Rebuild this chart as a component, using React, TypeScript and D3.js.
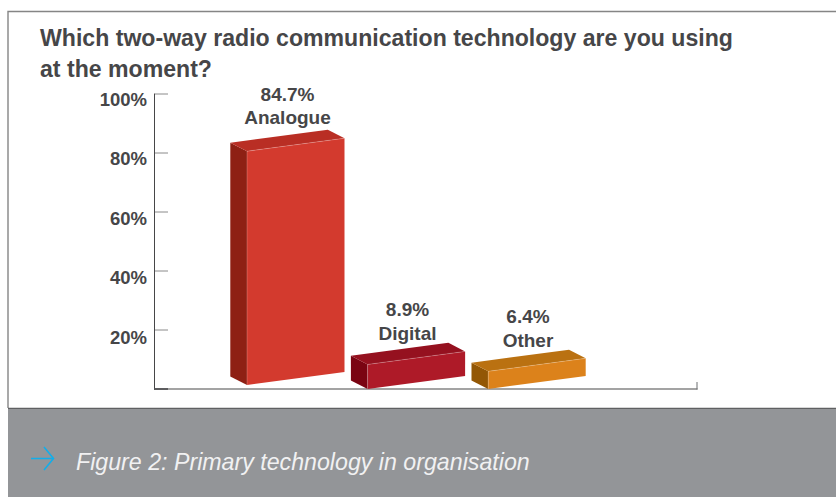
import React from "react";
import * as d3 from "d3";

const categories = ["Analogue", "Digital", "Other"];
const shares = [84.7, 8.9, 6.4];
const valueLabels = ["84.7%", "8.9%", "6.4%"];
const axisTicks = [20, 40, 60, 80, 100];

const frontColors = ["#d33a2e", "#ae1a28", "#dc821b"];
const topColors = ["#b92e24", "#95111f", "#ba7111"];
const sideColors = ["#8e2014", "#7a0412", "#935705"];

// Layout of the pseudo-3D blocks
const frontBottoms = [385, 389, 389];
const labelCentres = [287.5, 407.5, 528];
const labelBaselines = [[100.5, 124], [316, 340], [323, 347]];
const font = "'Liberation Sans', Arial, sans-serif";
const ink = "#464648";
const W = 836;
const H = 497;

const yAxis = d3.scaleLinear().domain([0, 100]).range([389, 94]);
// Tick labels run on a slightly wider pitch than the tick marks
const yLabel = d3.scaleLinear().domain([20, 100]).range([343.5, 106]);
const barHeight = d3.scaleLinear().domain([0, 100]).range([0, 276]);
const xBand = d3.scaleBand<string>().domain(categories).range([247, 585.7]).paddingInner(0.1915).paddingOuter(0).align(0);

const SKEW = 13;
const DX = 16.7;
const DY = 8.6;

const pts = (p: [number, number][]) => d3.line()(p) + "Z";

export default function App() {
  const bw = xBand.bandwidth();
  return (
    <svg width={W} height={H} style={{ position: "absolute", left: 0, top: 0, display: "block" }} fontFamily={font}>
      <rect x={0} y={0} width={W} height={H} fill="#fff" />
      {/* Framed panel and caption strip */}
      <path d={`M${W},11.5H8V408`} fill="none" stroke="#858585" strokeWidth={1.4} />
      <rect x={8} y={408} width={W - 8} height={89} fill="#939598" />
      <line x1={8} x2={W} y1={408.3} y2={408.3} stroke="#5f6062" strokeWidth={1.2} />

      <text x={40} y={46} fontSize={23.1} fontWeight="bold" fill={ink}>Which two-way radio communication technology are you using</text>
      <text x={40} y={77} fontSize={23.1} fontWeight="bold" fill={ink}>at the moment?</text>

      {/* Axis */}
      {axisTicks.map((t) => (
        <g key={t}>
          <line x1={155} x2={168} y1={yAxis(t)} y2={yAxis(t)} stroke="#8a8a8a" strokeWidth={1} />
          <text x={147} y={yLabel(t)} textAnchor="end" fontSize={18.5} fontWeight="bold" fill={ink}>{t}%</text>
        </g>
      ))}
      <line x1={154.5} x2={154.5} y1={yAxis(100) - 0.5} y2={yAxis(0) + 0.5} stroke={ink} strokeWidth={1} />
      <line x1={154} x2={697.5} y1={yAxis(0)} y2={yAxis(0)} stroke="#858585" strokeWidth={1.5} />
      <line x1={154} x2={168} y1={yAxis(0)} y2={yAxis(0)} stroke={ink} strokeWidth={1.5} />
      <line x1={697} x2={697} y1={382} y2={389.5} stroke="#6d6e71" strokeWidth={1} />

      {/* Blocks */}
      {categories.map((c, i) => {
        const x0 = xBand(c)!;
        const x1 = x0 + bw;
        const bl = frontBottoms[i];
        const tl = bl - barHeight(shares[i]);
        const br = bl - SKEW;
        const tr = tl - SKEW;
        return (
          <g key={c}>
            <path d={pts([[x0 - DX, tl - DY], [x0, tl], [x0, bl], [x0 - DX, bl - DY]])} fill={sideColors[i]} />
            <path d={pts([[x0 - DX, tl - DY], [x1 - DX, tr - DY], [x1, tr], [x0, tl]])} fill={topColors[i]} />
            <path d={pts([[x0, tl], [x1, tr], [x1, br], [x0, bl]])} fill={frontColors[i]} />
            <path d={`M${x0},${bl}V${tl}L${x1},${tr}`} fill="none" stroke="#fff" strokeOpacity={0.3} strokeWidth={0.7} />
            <text x={labelCentres[i]} y={labelBaselines[i][0]} textAnchor="middle" fontSize={19} fontWeight="bold" fill={ink}>{valueLabels[i]}</text>
            <text x={labelCentres[i]} y={labelBaselines[i][1]} textAnchor="middle" fontSize={19} fontWeight="bold" fill={ink}>{c}</text>
          </g>
        );
      })}

      {/* Caption */}
      <path d="M31,458.5H53M44,447L53.5,458.5L44,470" fill="none" stroke="#12aeea" strokeWidth={1.6} />
      <text x={76} y={470} fontSize={23.2} fontStyle="italic" fill="#f1f1f2">Figure 2: Primary technology in organisation</text>
    </svg>
  );
}
